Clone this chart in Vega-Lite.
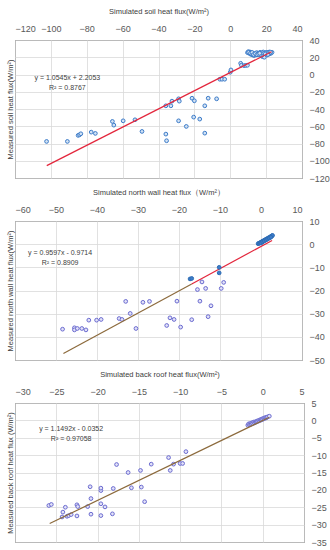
{
"$schema":"https://vega.github.io/schema/vega-lite/v6.json",
"padding":{"left":5,"top":6,"right":0,"bottom":0},
"spacing":3,
"config":{"font":"Liberation Sans","view":{"stroke":"#404040","strokeWidth":1},
"axis":{"labelFont":"Liberation Sans","labelFontSize":9,"labelColor":"#595959","titleFont":"Liberation Sans","titleFontSize":7.5,"titleFontWeight":"normal","titleColor":"#404040","gridColor":"#d9d9d9","gridWidth":0.8,"domain":false,"ticks":false,"labelPadding":7,"titlePadding":9}},
"vconcat":[
{"width":287,"height":138,"resolve":{"axis":{"y":"independent"}},
"encoding":{"x":{"field":"x","type":"quantitative","scale":{"domain":[-120,40],"nice":false,"zero":false},"axis":{"orient":"top","title":"Simulated soil heat flux(W/m²)","values":[-120,-100,-80,-60,-40,-20,0,20,40],"grid":true}}},
"layer":[
{"data":{"values":[
{"x":-102.4,"y":-77.6},{"x":-90.8,"y":-77.6},{"x":-84.8,"y":-70.6},{"x":-84,"y":-69.9},{"x":-83.3,"y":-68.7},{"x":-77.5,"y":-66.8},{"x":-75.2,"y":-68.3},{"x":-65.7,"y":-54.4},{"x":-64.9,"y":-58.7},{"x":-59.7,"y":-53.7},{"x":-53.1,"y":-52.5},{"x":-49.2,"y":-66},{"x":-35.9,"y":-69.1},{"x":-35.5,"y":-76.8},{"x":-35.9,"y":-36.3},{"x":-33.1,"y":-36.3},{"x":-32.5,"y":-30.9},{"x":-28.8,"y":-28.2},{"x":-28.4,"y":-30.9},{"x":-28.8,"y":-53.7},{"x":-21.3,"y":-27.5},{"x":-20,"y":-30.5},{"x":-20.4,"y":-49.4},{"x":-24.5,"y":-60.2},{"x":-17,"y":-51.7},{"x":-14.2,"y":-36.3},{"x":-14.2,"y":-68},{"x":-12.3,"y":-27.5},{"x":-7.6,"y":-28.2},{"x":-5.8,"y":-5.5},{"x":-4.6,"y":-5.5},{"x":-3.1,"y":-5.5},{"x":0,"y":2.6},{"x":0.4,"y":5.3},{"x":5.8,"y":13},{"x":6.2,"y":10.7},{"x":7.7,"y":10.3},{"x":8.6,"y":10.5},{"x":9.6,"y":10.7},
{"x":9.6,"y":25.4},{"x":10.1,"y":26.5},{"x":10.5,"y":24.6},{"x":11,"y":26.1},{"x":11.5,"y":23.4},{"x":11.7,"y":25.4},{"x":12.4,"y":22.7},{"x":12.8,"y":24.6},{"x":13.3,"y":21.9},{"x":14.3,"y":22.7},{"x":14.7,"y":25.4},{"x":15.2,"y":23.8},{"x":16.1,"y":22.7},{"x":16.6,"y":25.7},{"x":17.1,"y":24.6},{"x":18,"y":23.8},{"x":18.4,"y":26.1},{"x":19,"y":22.7},{"x":19.9,"y":25.4},{"x":20.3,"y":25.7},{"x":20.8,"y":24.6},{"x":21.8,"y":23.8},{"x":21.8,"y":26.1},{"x":22.7,"y":24.6},{"x":23.3,"y":25.7},{"x":18,"y":20.7},{"x":19,"y":20},{"x":10.8,"y":25},{"x":13.8,"y":23.5},{"x":15.6,"y":24.5},{"x":17.5,"y":22},{"x":20.5,"y":22.5},{"x":22.2,"y":25},{"x":12,"y":24},
{"x":10.3,"y":25.8},{"x":11.3,"y":24.8},{"x":12.2,"y":25.6},{"x":13,"y":23.2},{"x":14,"y":24.2},{"x":14.9,"y":22.9},{"x":15.8,"y":23.4},{"x":16.9,"y":23.3},{"x":17.8,"y":25.2},{"x":18.7,"y":24.4},{"x":19.5,"y":23.9},{"x":21.2,"y":25.2},{"x":22.5,"y":25.9},{"x":21,"y":23.2},{"x":16.4,"y":24.6}
]},
"mark":{"type":"point","shape":"circle","size":14,"filled":true,"fill":"#d2e2f4","stroke":"#3d7cc9","strokeWidth":1,"opacity":1},
"encoding":{
"y":{"field":"y","type":"quantitative","scale":{"domain":[-120,40],"nice":false,"zero":false},"axis":{"orient":"right","title":null,"values":[-120,-100,-80,-60,-40,-20,0,20,40],"grid":true}}}},
{"data":{"values":[{"x":-102.3,"y":-105.67},{"x":23,"y":26.46}]},
"mark":{"type":"line","color":"#e3263c","strokeWidth":1.2},
"encoding":{"y":{"field":"y","type":"quantitative","axis":{"orient":"left","title":"Measured soil heat flux(W/m²)","labels":false,"grid":false,"titlePadding":1}}}},
{"data":{"values":[{"x":-90.8,"y":-4,"t":"y = 1.0545x + 2.2053"},{"x":-90.8,"y":-15.7,"t":"R² = 0.8767"}]},
"mark":{"type":"text","fontSize":7,"color":"#404040","align":"center","baseline":"middle"},
"encoding":{"y":{"field":"y","type":"quantitative","axis":null},"text":{"field":"t"}}}
]},
{"width":287,"height":139,"resolve":{"axis":{"y":"independent"}},
"encoding":{"x":{"field":"x","type":"quantitative","scale":{"domain":[-60,10],"nice":false,"zero":false},"axis":{"orient":"top","title":"Simulated north wall heat flux（W/m²）","values":[-60,-50,-40,-30,-20,-10,0,10],"grid":true}}},
"layer":[
{"data":{"values":[
{"x":-48.4,"y":-36.7},{"x":-45.5,"y":-36.1},{"x":-45.5,"y":-37},{"x":-44.8,"y":-36.4},{"x":-43.7,"y":-36.4},{"x":-42.7,"y":-37},{"x":-42,"y":-32.8},{"x":-40.1,"y":-32.8},{"x":-39,"y":-32.5},{"x":-34.6,"y":-32.1},{"x":-33.9,"y":-32.5},{"x":-33,"y":-24.7},{"x":-31.9,"y":-29.9},{"x":-30.5,"y":-36.4},{"x":-28.8,"y":-25.1},{"x":-27.2,"y":-24.7},{"x":-23,"y":-35.1},{"x":-22.2,"y":-31.8},{"x":-21.2,"y":-32.5},{"x":-20.5,"y":-24.6},{"x":-19.6,"y":-35.8},{"x":-16.9,"y":-32.6},{"x":-14.9,"y":-24.6},{"x":-15.5,"y":-19.6},{"x":-14.4,"y":-16.3},{"x":-13.5,"y":-19.1},{"x":-12.9,"y":-31.3},{"x":-12.2,"y":-26.6},{"x":-9.7,"y":-19.1},{"x":-9.1,"y":-16.5}
]},
"mark":{"type":"point","shape":"circle","size":14,"filled":true,"fill":"#e2e2f8","stroke":"#6b6bd0","strokeWidth":1,"opacity":1},
"encoding":{
"y":{"field":"y","type":"quantitative","scale":{"domain":[-50,10],"nice":false,"zero":false},"axis":{"orient":"right","title":null,"values":[-50,-40,-30,-20,-10,0,10],"grid":true}}}},
{"data":{"values":[{"x":-48.2,"y":-47.23},{"x":-16.9,"y":-17.19}]},
"mark":{"type":"line","color":"#8c6a3c","strokeWidth":1.2},
"encoding":{"y":{"field":"y","type":"quantitative","axis":{"orient":"left","title":"Measured north wall heat flux(W/m²)","labels":false,"grid":false,"titlePadding":1}}}},
{"data":{"values":[{"x":-16.9,"y":-17.19},{"x":2.7,"y":1.62}]},
"mark":{"type":"line","color":"#e3263c","strokeWidth":1.2},
"encoding":{"y":{"field":"y","type":"quantitative","axis":null}}},
{"data":{"values":[
{"x":-17.3,"y":-15},{"x":-16.9,"y":-14.8},{"x":-10.2,"y":-10},{"x":-10.2,"y":-12.4},
{"x":-0.7,"y":0.2},{"x":-0.5,"y":0.4},{"x":-0.3,"y":0.5},{"x":-0.1,"y":0.8},{"x":0.1,"y":0.9},{"x":0.3,"y":1.2},{"x":0.5,"y":1.3},{"x":0.7,"y":1.6},{"x":0.9,"y":1.7},{"x":1.1,"y":2},{"x":1.3,"y":2.1},{"x":1.5,"y":2.4},{"x":1.7,"y":2.5},{"x":1.9,"y":2.8},{"x":2.1,"y":2.9},{"x":2.3,"y":3.2},{"x":2.5,"y":3.4},{"x":2.7,"y":3.6},{"x":2.8,"y":3.8},{"x":0,"y":0.5},{"x":0.4,"y":1.0},{"x":0.8,"y":1.4},{"x":1.2,"y":1.8},{"x":1.6,"y":2.2},{"x":2.0,"y":2.6},{"x":2.4,"y":3.0}
]},
"mark":{"type":"point","shape":"circle","size":14,"filled":true,"fill":"#3d7cc9","stroke":"#2e6db5","strokeWidth":1,"opacity":1},
"encoding":{"y":{"field":"y","type":"quantitative","axis":null}}},
{"data":{"values":[{"x":-49,"y":-3.8,"t":"y = 0.9597x - 0.9714"},{"x":-49,"y":-8.1,"t":"R² = 0.8909"}]},
"mark":{"type":"text","fontSize":7,"color":"#404040","align":"center","baseline":"middle"},
"encoding":{"y":{"field":"y","type":"quantitative","axis":null},"text":{"field":"t"}}}
]},
{"width":289,"height":139,"resolve":{"axis":{"y":"independent"}},
"encoding":{"x":{"field":"x","type":"quantitative","scale":{"domain":[-30,5],"nice":false,"zero":false},"axis":{"orient":"top","title":"Simulated back roof  heat flux(W/m²)","values":[-30,-25,-20,-15,-10,-5,0,5],"grid":true}}},
"layer":[
{"data":{"values":[
{"x":-25.9,"y":-24.5},{"x":-25.6,"y":-24.2},{"x":-24.3,"y":-27.8},{"x":-24.2,"y":-26.4},{"x":-23.9,"y":-25},{"x":-23.7,"y":-27.6},{"x":-23.5,"y":-27.4},{"x":-23.2,"y":-27.1},{"x":-22.5,"y":-24.3},{"x":-22.4,"y":-24.8},{"x":-22.5,"y":-27.5},{"x":-21.2,"y":-24.8},{"x":-20.9,"y":-19.1},{"x":-20.8,"y":-22.5},{"x":-20.8,"y":-27},{"x":-19.6,"y":-20.2},{"x":-19.6,"y":-19.5},{"x":-19.6,"y":-24},{"x":-19.6,"y":-27.4},{"x":-19.1,"y":-24.9},{"x":-18.1,"y":-19.6},{"x":-18.2,"y":-26.9},{"x":-17.7,"y":-12.7},{"x":-16.3,"y":-15},{"x":-15.9,"y":-19.4},{"x":-14.8,"y":-14.4},{"x":-14.7,"y":-19.2},{"x":-14.3,"y":-23.4},{"x":-13.5,"y":-12.6},{"x":-11.4,"y":-10.7},{"x":-11.2,"y":-14.4},{"x":-10.8,"y":-12.6},{"x":-10,"y":-12.4},{"x":-9.7,"y":-12.4},{"x":-9.3,"y":-9},
{"x":-1.8,"y":-1.4},{"x":-1.7,"y":-1.0},{"x":-1.6,"y":-1.2},{"x":-1.5,"y":-0.9},{"x":-1.4,"y":-1.1},{"x":-1.3,"y":-0.7},{"x":-1.2,"y":-0.9},{"x":-1.1,"y":-0.5},{"x":-1.0,"y":-0.7},{"x":-0.9,"y":-0.4},{"x":-0.8,"y":-0.5},{"x":-0.7,"y":-0.2},{"x":-0.6,"y":-0.3},{"x":-0.5,"y":0},{"x":-0.4,"y":-0.1},{"x":-0.3,"y":0.2},{"x":-0.2,"y":0.1},{"x":-0.1,"y":0.4},{"x":0,"y":0.3},{"x":0.1,"y":0.6},{"x":0.2,"y":0.5},{"x":0.3,"y":0.8},{"x":0.4,"y":0.7},{"x":0.5,"y":0.9},{"x":0.6,"y":1.0},{"x":0.8,"y":1.2}
]},
"mark":{"type":"point","shape":"circle","size":14,"filled":true,"fill":"#e2e2f8","stroke":"#6b6bd0","strokeWidth":1,"opacity":1},
"encoding":{
"y":{"field":"y","type":"quantitative","scale":{"domain":[-35,5],"nice":false,"zero":false},"axis":{"orient":"right","title":null,"values":[-35,-30,-25,-20,-15,-10,-5,0,5],"grid":true}}}},
{"data":{"values":[{"x":-25.8,"y":-29.69},{"x":0.8,"y":0.88}]},
"mark":{"type":"line","color":"#8c6a3c","strokeWidth":1.2},
"encoding":{"y":{"field":"y","type":"quantitative","axis":{"orient":"left","title":"Measured back roof heat flux (W/m²)","labels":false,"grid":false,"titlePadding":1}}}},
{"data":{"values":[{"x":-23.2,"y":-2.5,"t":"y = 1.1492x - 0.0352"},{"x":-23.2,"y":-5.4,"t":"R² = 0.97058"}]},
"mark":{"type":"text","fontSize":7,"color":"#404040","align":"center","baseline":"middle"},
"encoding":{"y":{"field":"y","type":"quantitative","axis":null},"text":{"field":"t"}}}
]}
]}
